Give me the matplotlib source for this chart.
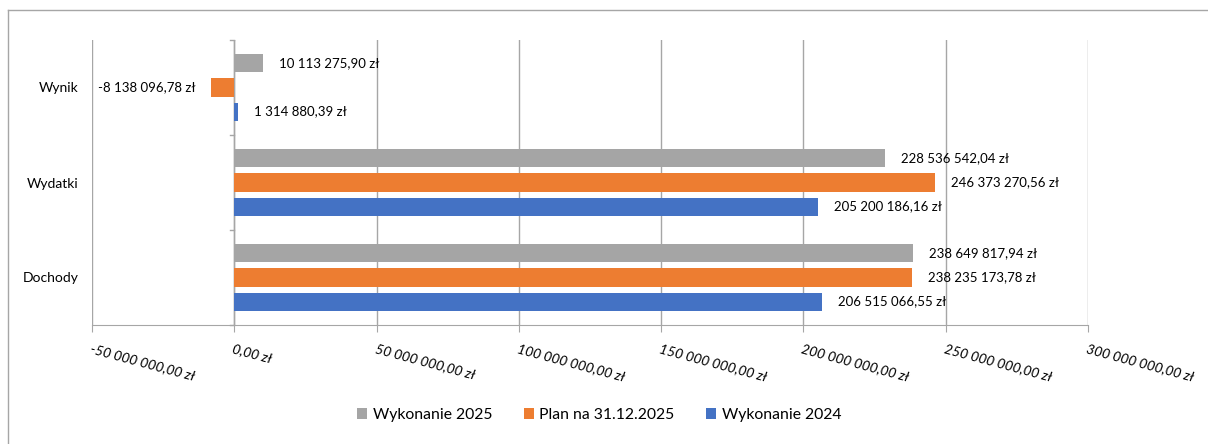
import numpy as np
import matplotlib.pyplot as plt
from matplotlib.lines import Line2D

plt.rcParams['font.family'] = ['Lato', 'DejaVu Sans']

categories = ['Dochody', 'Wydatki', 'Wynik']
series = ['Wykonanie 2025', 'Plan na 31.12.2025', 'Wykonanie 2024']
wyk_2025 = [238649817.94, 228536542.04, 10113275.90]
plan_2025 = [238235173.78, 246373270.56, -8138096.78]
wyk_2024 = [206515066.55, 205200186.16, 1314880.39]
x_ticks = [-50e6, 0, 50e6, 100e6, 150e6, 200e6, 250e6, 300e6]

colors = ['#A5A5A5', '#ED7D31', '#4472C4']


def pl_fmt(v):
    s = f'{abs(v):,.2f}'.replace(',', ' ').replace('.', ',')
    return ('-' if v < 0 else '') + s + ' zł'


fig = plt.figure(figsize=(12.08, 4.44), dpi=100)
ax = fig.add_axes([92 / 1208, 119 / 444, 996 / 1208, 285 / 444])

# outer frame of the chart
fig.add_artist(Line2D([8 / 1208, 8 / 1208], [0, 434 / 444], color='#a6a6a6', lw=1))
fig.add_artist(Line2D([8 / 1208, 1], [434 / 444, 434 / 444], color='#a6a6a6', lw=1))

y = np.arange(len(categories))
h = 0.19
off = 0.253
data = [wyk_2025, plan_2025, wyk_2024]
for i, (vals, c, name) in enumerate(zip(data, colors, series)):
    pos = y + off * (1 - i)
    ax.barh(pos, vals, height=h, color=c, label=name, zorder=3)
    for p, v in zip(pos, vals):
        if v >= 0:
            ax.text(v + 5.6e6, p, pl_fmt(v), va='center', ha='left', fontsize=9.5, color='#000000')
        else:
            ax.text(v - 5.6e6, p, pl_fmt(v), va='center', ha='right', fontsize=9.5, color='#000000')

ax.set_xlim(-50e6, 300e6)
ax.set_ylim(-0.5, 2.5)
ax.set_xticks(x_ticks)
ax.set_xticklabels([pl_fmt(t) for t in x_ticks], rotation=-15, ha='left',
                   rotation_mode='anchor', fontsize=10, style='italic')
ax.tick_params(axis='x', length=5, color='#a6a6a6', pad=8)
ax.set_yticks(y)
ax.set_yticklabels(categories, fontsize=10)
ax.tick_params(axis='y', length=0, pad=9.5)
ax.grid(axis='x', color='#a6a6a6', lw=1, zorder=0)
for s in ['top', 'right', 'left']:
    ax.spines[s].set_visible(False)
ax.spines['bottom'].set_color('#a6a6a6')

# category axis at zero with boundary ticks
ax.axvline(0, color='#a6a6a6', lw=1, zorder=2)
for b in [-0.5, 0.5, 1.5, 2.5]:
    ax.plot([-1.6e6, 0], [b, b], color='#a6a6a6', lw=1, clip_on=False, zorder=2)

fig.legend(loc='center', bbox_to_anchor=(599 / 1208, 29 / 444), ncol=3, frameon=False,
           fontsize=11.3, handlelength=0.65, handleheight=0.65, handletextpad=0.35,
           columnspacing=2.0)

fig.savefig('out.png', dpi=100)
